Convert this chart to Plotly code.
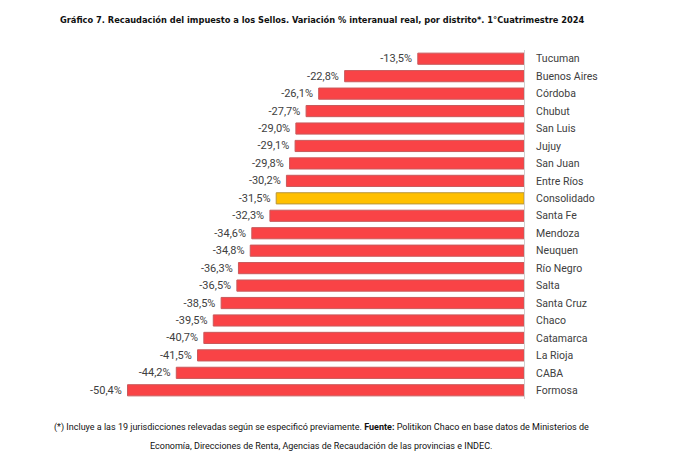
import plotly.graph_objects as go

distritos = ["Tucuman", "Buenos Aires", "Córdoba", "Chubut", "San Luis", "Jujuy",
             "San Juan", "Entre Ríos", "Consolidado", "Santa Fe", "Mendoza", "Neuquen",
             "Río Negro", "Salta", "Santa Cruz", "Chaco", "Catamarca", "La Rioja",
             "CABA", "Formosa"]
variacion = [-13.5, -22.8, -26.1, -27.7, -29.0, -29.1, -29.8, -30.2, -31.5, -32.3,
             -34.6, -34.8, -36.3, -36.5, -38.5, -39.5, -40.7, -41.5, -44.2, -50.4]
etiquetas = [f"{v:.1f}%".replace(".", ",") + "\u00a0" for v in variacion]

colores = ["#FFC000" if d == "Consolidado" else "#F94346" for d in distritos]
bordes = ["#B8963A" if d == "Consolidado" else "#C9595B" for d in distritos]

# la pagina tiene ~8px de margen propio, se compensa aqui
fig = go.Figure(go.Bar(
    x=variacion, y=distritos, orientation="h",
    marker=dict(color=colores, line=dict(color=bordes, width=1)),
    text=etiquetas, textposition="outside", cliponaxis=False, constraintext="none",
    textfont=dict(family="Roboto", size=11, color="#404040"),
    hoverinfo="skip",
))

fig.update_layout(
    width=693, height=476,
    margin=dict(l=44, r=177, t=42, b=85),
    paper_bgcolor="white", plot_bgcolor="white",
    bargap=0.36,
    showlegend=False,
    title=dict(text="<b>Gráfico 7. Recaudación del impuesto a los Sellos. Variación % interanual real, por distrito*. 1°Cuatrimestre 2024</b>",
               x=52/693, xanchor="left", y=1-12/476, yanchor="middle",
               font=dict(family="DejaVu Sans Condensed, Roboto", size=9.2, color="#111111")),
    xaxis=dict(range=[-60, 0], visible=False, fixedrange=True),
    yaxis=dict(side="right", autorange="reversed", showline=True, linecolor="#d0d0d0",
               linewidth=1, ticks="", ticklabelstandoff=9, showgrid=False,
               tickfont=dict(family="Roboto", size=10.5, color="#404040")),
)

nota = ["(*) Incluye a las 19 jurisdicciones relevadas según se especificó previamente. <b>Fuente:</b> Politikon Chaco en base datos de Ministerios de",
        "Economía, Direcciones de Renta, Agencias de Recaudación de las provincias e INDEC."]
for i, linea in enumerate(nota):
    fig.add_annotation(
        text=linea, xref="paper", yref="paper", x=(313-44)/472, y=-(419 + 19*i - 391)/349,
        xanchor="center", yanchor="middle", showarrow=False,
        font=dict(family="Roboto", size=9, color="#111111"),
    )

fig.write_html("out.html")
